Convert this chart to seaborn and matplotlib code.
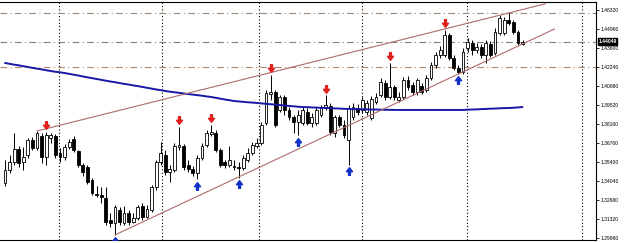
import numpy as np
import pandas as pd
import matplotlib
matplotlib.use("Agg")
import matplotlib.pyplot as plt
import seaborn as sns
from matplotlib.path import Path
from matplotlib.transforms import offset_copy, blended_transform_factory

# ---------------- data ----------------
opens = [
    1.3391, 1.3484, 1.3541, 1.3635, 1.3541, 1.3592, 1.3699, 1.3642, 1.3728, 1.3577,
    1.3714, 1.3728, 1.3606, 1.3577, 1.3649, 1.3706, 1.3620, 1.3520, 1.3506, 1.3412,
    1.3312, 1.3305, 1.3283, 1.3125, 1.3104, 1.3197, 1.3104, 1.3176, 1.3111, 1.3140,
    1.3226, 1.3147, 1.3197, 1.3362, 1.3541, 1.3592, 1.3470, 1.3484, 1.3649, 1.3656,
    1.3520, 1.3491, 1.3463, 1.3570, 1.3663, 1.3742, 1.3750, 1.3628, 1.3541, 1.3520,
    1.3513, 1.3506, 1.3498, 1.3556, 1.3606, 1.3656, 1.3678, 1.3821, 1.4029, 1.4044,
    1.3915, 1.4008, 1.3915, 1.3864, 1.3828, 1.3821, 1.3900, 1.3821, 1.3821, 1.3879,
    1.3929, 1.3943, 1.3750, 1.3864, 1.3807, 1.3699, 1.3864, 1.3929, 1.3915, 1.3900,
    1.3857, 1.3972, 1.4022, 1.4108, 1.4008, 1.4080, 1.3986, 1.4008, 1.4130, 1.4094,
    1.4044, 1.4087, 1.4058, 1.4144, 1.4237, 1.4309, 1.4309, 1.4453, 1.4288, 1.4216,
    1.4187, 1.4359, 1.4395, 1.4345, 1.4367, 1.4309, 1.4388, 1.4324, 1.4467, 1.4467,
    1.4560, 1.4546, 1.4474, 1.4388,
]
highs = [
    1.3556, 1.3592, 1.3750, 1.3656, 1.3649, 1.3714, 1.3721, 1.3764, 1.3750, 1.3757,
    1.3750, 1.3742, 1.3642, 1.3671, 1.3706, 1.3728, 1.3628, 1.3534, 1.3520, 1.3427,
    1.3369, 1.3362, 1.3362, 1.3176, 1.3233, 1.3219, 1.3226, 1.3197, 1.3176, 1.3233,
    1.3247, 1.3233, 1.3376, 1.3556, 1.3685, 1.3628, 1.3520, 1.3678, 1.3793, 1.3671,
    1.3556, 1.3513, 1.3592, 1.3678, 1.3771, 1.3807, 1.3771, 1.3642, 1.3556, 1.3656,
    1.3556, 1.3541, 1.3592, 1.3642, 1.3685, 1.3714, 1.3828, 1.4058, 1.4166, 1.4058,
    1.4022, 1.4022, 1.3936, 1.3879, 1.3915, 1.3936, 1.3929, 1.3893, 1.3936, 1.3950,
    1.4022, 1.3965, 1.3879, 1.3879, 1.3843, 1.3950, 1.3965, 1.3958, 1.4008, 1.3986,
    1.4015, 1.4037, 1.4144, 1.4130, 1.4252, 1.4094, 1.4044, 1.4151, 1.4159, 1.4115,
    1.4144, 1.4108, 1.4166, 1.4259, 1.4331, 1.4374, 1.4489, 1.4467, 1.4309, 1.4237,
    1.4359, 1.4431, 1.4417, 1.4395, 1.4388, 1.4417, 1.4410, 1.4503, 1.4596, 1.4582,
    1.4611, 1.4560, 1.4489, 1.4417,
]
lows = [
    1.3369, 1.3463, 1.3520, 1.3506, 1.3484, 1.3570, 1.3628, 1.3628, 1.3534, 1.3520,
    1.3678, 1.3570, 1.3541, 1.3556, 1.3635, 1.3613, 1.3506, 1.3441, 1.3384, 1.3305,
    1.3290, 1.3247, 1.3089, 1.3075, 1.3018, 1.3089, 1.3089, 1.3089, 1.3104, 1.3125,
    1.3125, 1.3140, 1.3183, 1.3341, 1.3520, 1.3448, 1.3398, 1.3470, 1.3628, 1.3484,
    1.3470, 1.3441, 1.3419, 1.3556, 1.3649, 1.3728, 1.3613, 1.3506, 1.3498, 1.3506,
    1.3484, 1.3427, 1.3484, 1.3541, 1.3592, 1.3642, 1.3663, 1.3807, 1.3986, 1.3793,
    1.3900, 1.3879, 1.3843, 1.3750, 1.3735, 1.3807, 1.3807, 1.3793, 1.3807, 1.3864,
    1.3915, 1.3735, 1.3721, 1.3793, 1.3714, 1.3520, 1.3843, 1.3879, 1.3893, 1.3879,
    1.3843, 1.3958, 1.4008, 1.3986, 1.3993, 1.3986, 1.3972, 1.3993, 1.4058, 1.4022,
    1.4022, 1.4029, 1.4044, 1.4130, 1.4216, 1.4288, 1.4295, 1.4273, 1.4202, 1.4173,
    1.4173, 1.4331, 1.4309, 1.4324, 1.4288, 1.4252, 1.4295, 1.4309, 1.4453, 1.4453,
    1.4524, 1.4460, 1.4381, 1.4381,
]
closes = [
    1.3484, 1.3541, 1.3635, 1.3534, 1.3577, 1.3699, 1.3642, 1.3750, 1.3577, 1.3735,
    1.3735, 1.3592, 1.3577, 1.3649, 1.3685, 1.3628, 1.3520, 1.3470, 1.3398, 1.3319,
    1.3305, 1.3290, 1.3111, 1.3104, 1.3219, 1.3111, 1.3176, 1.3111, 1.3140, 1.3219,
    1.3147, 1.3204, 1.3362, 1.3541, 1.3606, 1.3470, 1.3491, 1.3656, 1.3663, 1.3506,
    1.3491, 1.3463, 1.3570, 1.3656, 1.3750, 1.3757, 1.3628, 1.3520, 1.3520, 1.3556,
    1.3506, 1.3498, 1.3570, 1.3606, 1.3663, 1.3678, 1.3807, 1.4037, 1.4044, 1.3807,
    1.4008, 1.3915, 1.3864, 1.3828, 1.3879, 1.3915, 1.3821, 1.3864, 1.3915, 1.3929,
    1.3950, 1.3757, 1.3864, 1.3807, 1.3735, 1.3929, 1.3936, 1.3900, 1.3986, 1.3965,
    1.3993, 1.4008, 1.4115, 1.4008, 1.4080, 1.4008, 1.4008, 1.4130, 1.4080, 1.4044,
    1.4130, 1.4044, 1.4144, 1.4237, 1.4309, 1.4345, 1.4453, 1.4288, 1.4216, 1.4187,
    1.4331, 1.4402, 1.4345, 1.4367, 1.4309, 1.4395, 1.4309, 1.4474, 1.4575, 1.4560,
    1.4539, 1.4474, 1.4395, 1.44049,
]
ma_values = [
    1.4252, 1.4246, 1.4240, 1.4235, 1.4229, 1.4223, 1.4217, 1.4211, 1.4206, 1.4200,
    1.4194, 1.4189, 1.4185, 1.4180, 1.4174, 1.4168, 1.4162, 1.4155, 1.4149, 1.4143,
    1.4137, 1.4131, 1.4125, 1.4119, 1.4114, 1.4108, 1.4102, 1.4097, 1.4091, 1.4086,
    1.4080, 1.4074, 1.4068, 1.4062, 1.4057, 1.4051, 1.4046, 1.4042, 1.4038, 1.4033,
    1.4029, 1.4025, 1.4021, 1.4017, 1.4012, 1.4008, 1.4002, 1.3996, 1.3990, 1.3985,
    1.3979, 1.3976, 1.3973, 1.3970, 1.3968, 1.3965, 1.3962, 1.3959, 1.3956, 1.3953,
    1.3950, 1.3947, 1.3944, 1.3941, 1.3938, 1.3936, 1.3935, 1.3933, 1.3932, 1.3930,
    1.3929, 1.3928, 1.3926, 1.3925, 1.3923, 1.3922, 1.3921, 1.3920, 1.3920, 1.3919,
    1.3918, 1.3918, 1.3917, 1.3916, 1.3916, 1.3915, 1.3915, 1.3915, 1.3915, 1.3915,
    1.3915, 1.3915, 1.3915, 1.3915, 1.3915, 1.3915, 1.3915, 1.3915, 1.3915, 1.3915,
    1.3915, 1.3917, 1.3918, 1.3919, 1.3921, 1.3922, 1.3924, 1.3925, 1.3927, 1.3928,
    1.3929, 1.3931, 1.3933, 1.3936,
]
tick_values = [1.46320, 1.44960, 1.43600, 1.42240, 1.40880, 1.39520, 1.38160,
               1.36760, 1.35400, 1.34040, 1.32680, 1.31320, 1.29960]
tick_labels = ["1.46320", "1.44960", "1.43600", "1.42240", "1.40880", "1.39520",
               "1.38160", "1.36760", "1.35400", "1.34040", "1.32680", "1.31320", "1.29960"]
month_starts = [11.8, 34.3, 55.5, 77.9, 100.9, 126.0]
level_lines = [1.4611, 1.4402, 1.4226]
level_colors = ["#9a8878", "#808080", "#b08a6a"]
fractal_high_idx = [9, 38, 45, 58, 70, 84, 96]     # red arrows above highs
fractal_low_idx = [24, 42, 51, 64, 75, 99]         # blue arrows below lows
upper_anchor = (7, 110)      # candles whose highs define the upper wedge line
lower_anchor = (24, 99)      # candles whose lows define the lower wedge line
upper_end, lower_end = 118, 120
last_price = 1.44049
last_label = "1.44049"

# ---------------- figure ----------------
sns.set_style("white")
plt.rcParams["font.family"] = ["Liberation Sans", "DejaVu Sans"]

W, H = 625, 243
fig = plt.figure(figsize=(W / 100, H / 100), dpi=100)
ax = fig.add_axes([0, 3 / H, 596 / W, (240 - 2) / H])

df = pd.DataFrame({"o": opens, "h": highs, "l": lows, "c": closes, "ma": ma_values})
df["i"] = np.arange(len(df))
bull = df["c"] >= df["o"]

# separators and levels
for xs in month_starts:
    ax.axvline(xs, color="black", lw=0.8, ls=(0, (1, 2)), zorder=1)
for lv, col in zip(level_lines, level_colors):
    ax.axhline(lv, color=col, lw=0.8, ls=(0, (6, 3, 1, 3)), zorder=1)

# candles
ax.vlines(df["i"], df["l"], df["h"], color="black", lw=0.7, zorder=2)
bottoms = np.minimum(df["o"], df["c"])
heights = np.maximum(np.abs(df["c"] - df["o"]), 0.00012)
ax.bar(df["i"], heights, bottom=bottoms, width=0.62,
       color=np.where(bull, "white", "black"), edgecolor="black", linewidth=0.6, zorder=2.5)

# moving average
sns.lineplot(data=df, x="i", y="ma", ax=ax, color="#1818a8", lw=1.4, zorder=3, legend=False)

# wedge lines
def line_through(i1, y1, i2, y2, x_start, x_end):
    k = (y2 - y1) / (i2 - i1)
    return [x_start, x_end], [y1 + k * (x_start - i1), y1 + k * (x_end - i1)]

ux, uy = line_through(upper_anchor[0], highs[upper_anchor[0]], upper_anchor[1], highs[upper_anchor[1]],
                      upper_anchor[0], upper_end)
lx, ly = line_through(lower_anchor[0], lows[lower_anchor[0]], lower_anchor[1], lows[lower_anchor[1]],
                      lower_anchor[0], lower_end)
sns.lineplot(x=ux, y=uy, ax=ax, color="#b06a6a", lw=0.8, zorder=3)
sns.lineplot(x=lx, y=ly, ax=ax, color="#b06a6a", lw=0.8, zorder=3)

# fractal arrows
down_arrow = Path([(-0.25, 1), (0.25, 1), (0.25, 0.05), (0.8, 0.05), (0, -1),
                   (-0.8, 0.05), (-0.25, 0.05), (-0.25, 1)], closed=True)
up_arrow = Path([(x, -y) for x, y in down_arrow.vertices], closed=True)
t_up = offset_copy(ax.transData, fig=fig, x=0, y=6.5, units="dots")
t_dn = offset_copy(ax.transData, fig=fig, x=0, y=-6.5, units="dots")
ax.plot(fractal_high_idx, [highs[i] for i in fractal_high_idx], ls="none",
        marker=down_arrow, ms=5.5, color="#e0201c", transform=t_up, zorder=4, clip_on=False)
ax.plot(fractal_low_idx, [lows[i] for i in fractal_low_idx], ls="none",
        marker=up_arrow, ms=5.5, color="#1030c8", transform=t_dn, zorder=4, clip_on=True)

# axes styling
ax.set_xlim((0 - 5) / 4.58, (596 - 5) / 4.58)
ax.set_ylim(1.29818, 1.46895)
ax.set_xticks([])
ax.set_xlabel("")
ax.set_ylabel("")
ax.yaxis.tick_right()
ax.set_yticks(tick_values)
ax.set_yticklabels(tick_labels)
ax.tick_params(axis="y", direction="out", length=2, width=0.6, pad=1.5,
               labelsize=3.6, colors="black", right=True, left=False)
for s in ["top", "right", "bottom"]:
    ax.spines[s].set_visible(True)
    ax.spines[s].set_color("black")
    ax.spines[s].set_linewidth(0.8)
ax.spines["left"].set_visible(False)
ax.set_facecolor("white")

# current price label
bt = blended_transform_factory(ax.transAxes, ax.transData)
ax.text(1.004, last_price, last_label, transform=bt, ha="left", va="center",
        color="white", fontsize=3.6, fontweight="bold", clip_on=False, zorder=6,
        bbox=dict(boxstyle="square,pad=0.15", facecolor="black", edgecolor="black"))

fig.savefig("out.png", dpi=100)
